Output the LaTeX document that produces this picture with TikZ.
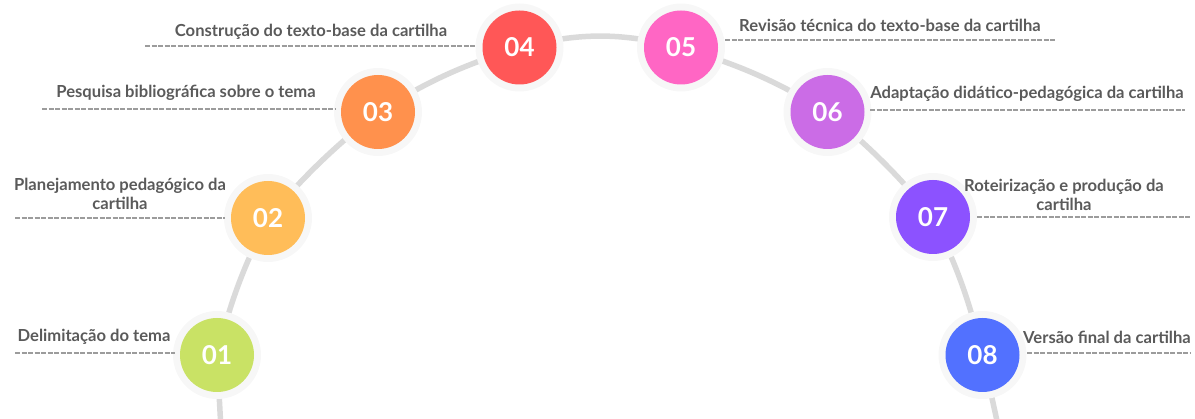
\documentclass[tikz,border=0pt]{standalone}
\usepackage{fontspec}
\setmainfont{Lato}
\definecolor{arcgray}{HTML}{DADADA}
\definecolor{halo}{HTML}{F7F7F7}
\definecolor{txt}{HTML}{5A5A5A}
\definecolor{dash}{HTML}{9C9C9C}
\definecolor{c1}{HTML}{C9E265}
\definecolor{c2}{HTML}{FFBD59}
\definecolor{c3}{HTML}{FF914D}
\definecolor{c4}{HTML}{FF5757}
\definecolor{c5}{HTML}{FF66C4}
\definecolor{c6}{HTML}{CB6CE6}
\definecolor{c7}{HTML}{8C52FF}
\definecolor{c8}{HTML}{5271FF}
\tikzset{
  arcline/.style={draw=arcgray, line width=5.5pt},
  halodisc/.style={circle, fill=halo, minimum size=88pt, inner sep=0pt},
  stepdisc/.style={circle, fill=#1, minimum size=74pt, inner sep=0pt, text=white,
     font=\fontsize{26}{26}\selectfont\bfseries},
  lab/.style={text=txt, font=\fontsize{16.6}{19}\selectfont\bfseries, align=center, inner sep=0pt},
  underline/.style={draw=dash, line width=1.1pt, dash pattern=on 5pt off 1.5pt}
}
\begin{document}
\begin{tikzpicture}[x=1pt, y=-1pt]
\useasboundingbox (0,0) rectangle (1195,419);
% anchor coordinates
\coordinate (p1) at (217,355);
\coordinate (p2) at (268,218);
\coordinate (p3) at (378,112);
\coordinate (p4) at (519.5,47.5);
\coordinate (p5) at (681,47.5);
\coordinate (p6) at (827.5,112);
\coordinate (p7) at (933,217);
\coordinate (p8) at (982.5,355);
\coordinate (b1) at (221,430);
\coordinate (b8) at (999,430);
% arc
\draw[arcline] (b1) -- (p1);
\draw[arcline] (p1) to[bend left=6] (p2);
\draw[arcline] (p2) to[bend left=5] (p3);
\draw[arcline] (p3) to[bend left=7] (p4);
\draw[arcline] (p4) to[bend left=14] (p5);
\draw[arcline] (p5) to[bend left=7] (p6);
\draw[arcline] (p6) to[bend left=5] (p7);
\draw[arcline] (p7) to[bend left=6] (p8);
\draw[arcline] (p8) -- (b8);
% halos and discs
\foreach \i in {1,...,8} {
  \node[halodisc] (h\i) at (p\i) {};
}
\node[stepdisc=c1] (n1) at (p1) {01};
\node[stepdisc=c2] (n2) at (p2) {02};
\node[stepdisc=c3] (n3) at (p3) {03};
\node[stepdisc=c4] (n4) at (p4) {04};
\node[stepdisc=c5] (n5) at (p5) {05};
\node[stepdisc=c6] (n6) at (p6) {06};
\node[stepdisc=c7] (n7) at (p7) {07};
\node[stepdisc=c8] (n8) at (p8) {08};
% labels
\node[lab] (l1) at (94,337) {Delimitação do tema};
\node[lab] (l2) at (120,193.5) {Planejamento pedagógico da\\cartilha};
\node[lab] (l3) at (186,93) {Pesquisa bibliográfica sobre o tema};
\node[lab] (l4) at (311,31.5) {Construção do texto-base da cartilha};
\node[lab] (l5) at (890,25) {Revisão técnica do texto-base da cartilha};
\node[lab] (l6) at (1027,94) {Adaptação didático-pedagógica da cartilha};
\node[lab] (l7) at (1064,195) {Roteirização e produção da\\cartilha};
\node[lab] (l8) at (1107,337) {Versão final da cartilha};
% underlines
\coordinate (u1a) at (15,353);   \coordinate (u1b) at (175,353);
\coordinate (u2a) at (15,218);   \coordinate (u2b) at (225,218);
\coordinate (u3a) at (42,109);   \coordinate (u3b) at (335,109);
\coordinate (u4a) at (145,46);   \coordinate (u4b) at (475,46);
\coordinate (u5a) at (725,40);   \coordinate (u5b) at (1055,40);
\coordinate (u6a) at (870,110);  \coordinate (u6b) at (1185,110);
\coordinate (u7a) at (977,217);  \coordinate (u7b) at (1190,217);
\coordinate (u8a) at (1027,353); \coordinate (u8b) at (1190,353);
\foreach \i in {1,...,8} {
  \draw[underline] (u\i a) -- (u\i b);
}
\end{tikzpicture}
\end{document}
